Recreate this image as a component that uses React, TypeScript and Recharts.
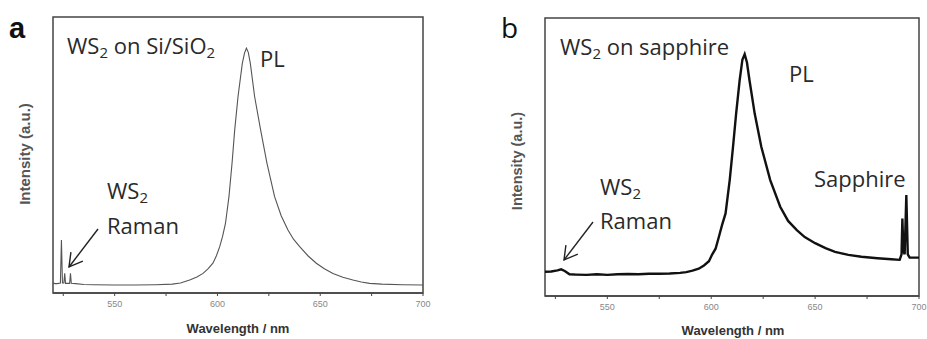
import React from "react";
import { LineChart, Line, XAxis, YAxis, ReferenceArea } from "recharts";

// Panel a: WS2 on Si/SiO2
const wavelengthA = [
  520, 521, 522, 523.6, 524.1, 524.6, 525.3, 525.7, 526.1, 528.1, 528.5, 528.9,
  531, 535, 540, 550, 560, 570, 578, 582, 586.5, 590, 593, 595.5, 597.8, 599.5,
  601.1, 602.5, 603.9, 605.6, 607.1, 608.4, 610.0, 612.1, 613.2, 614.1, 615.0,
  616.0, 618.1, 621.0, 624.1, 627.8, 631, 634.3, 637, 640, 644, 648.1, 652,
  656.2, 661, 665.9, 670, 674, 680, 690, 700,
];
const intensityA = [
  0.036, 0.034, 0.034, 0.036, 0.192, 0.036, 0.036, 0.071, 0.035, 0.035, 0.071, 0.035,
  0.034, 0.031, 0.030, 0.029, 0.029, 0.030, 0.032, 0.036, 0.047, 0.058, 0.071, 0.088, 0.108, 0.135,
  0.168, 0.205, 0.252, 0.349, 0.470, 0.591, 0.711, 0.832, 0.870, 0.887, 0.872,
  0.832, 0.711, 0.591, 0.470, 0.349, 0.280, 0.228, 0.195, 0.168, 0.135, 0.108, 0.088,
  0.071, 0.057, 0.047, 0.040, 0.035, 0.032, 0.030, 0.029,
];

// Panel b: WS2 on sapphire
const wavelengthB = [
  520, 523, 526, 527.8, 529.5, 531.8, 535, 540, 545, 550, 555, 560, 565, 570, 575,
  580, 585, 588, 591, 594, 596.5, 598.9, 600.5, 602.1, 603.7, 605.2, 606.9, 608.9,
  610.5, 612.0, 613.7, 615.0, 616.1, 617.2, 618.4, 620.9, 624.1, 628.4, 633.2, 637,
  641.2, 645, 650, 655, 659.6, 666, 672.3, 680, 686.7, 690.7, 691.6, 692.0, 692.5,
  693.1, 693.9, 694.6, 695.5, 700,
];
const intensityB = [
  0.087, 0.088, 0.092, 0.096, 0.090, 0.078, 0.077, 0.076, 0.078, 0.076, 0.078, 0.079, 0.078, 0.080, 0.080,
  0.081, 0.083, 0.086, 0.091, 0.098, 0.110, 0.125, 0.150, 0.170, 0.213, 0.255, 0.297, 0.417,
  0.537, 0.657, 0.777, 0.850, 0.870, 0.840, 0.777, 0.657, 0.537, 0.417, 0.321, 0.270,
  0.237, 0.212, 0.190, 0.172, 0.159, 0.148, 0.141, 0.136, 0.132, 0.130, 0.150, 0.279, 0.160,
  0.150, 0.363, 0.150, 0.138, 0.138,
];

const xTicks = [525, 550, 575, 600, 625, 650, 675, 700];
const majorTicks = [550, 600, 650, 700];
const xDomain = [520, 700];
const yDomain = [0, 1];

const dataA = wavelengthA.map((x, i) => ({ x, y: intensityA[i] }));
const dataB = wavelengthB.map((x, i) => ({ x, y: intensityB[i] }));

const tickFmt = (v: number) => (majorTicks.includes(v) ? String(v) : "");
const tickStyle = { fontSize: 9, fill: "#888", fontFamily: "Liberation Sans, Arial, sans-serif" };
const annoFont = "'Open Sans', Lato, sans-serif";
const axisFont = "Liberation Sans, Arial, sans-serif";

function Panel({ data, stroke, width, margin }: any) {
  return (
    <LineChart width={460} height={339} data={data} margin={margin}>
      <XAxis
        dataKey="x"
        type="number"
        domain={xDomain}
        ticks={xTicks}
        tickFormatter={tickFmt}
        tick={tickStyle}
        tickSize={3}
        tickMargin={5}
        height={30}
        axisLine={{ stroke: "#444", strokeWidth: 1.5 }}
        tickLine={{ stroke: "#444" }}
        allowDataOverflow
      />
      <YAxis type="number" domain={yDomain} hide width={0} allowDataOverflow />
      <ReferenceArea x1={520} x2={700} y1={0} y2={1} fill="none" stroke="#444" strokeWidth={1.5} />
      <Line
        type="linear"
        dataKey="y"
        stroke={stroke}
        strokeWidth={width}
        dot={false}
        isAnimationActive={false}
      />
    </LineChart>
  );
}

function Sub({ x, y, pre, post, size, color }: any) {
  return (
    <text x={x} y={y} fontSize={size} fill={color} fontFamily={annoFont}>
      {pre}
      <tspan fontSize={size * 0.68} dy={4}>2</tspan>
      <tspan dy={-4}>{post}</tspan>
    </text>
  );
}

function Arrow({ x1, y1, x2, y2 }: any) {
  const dx = x2 - x1;
  const dy = y2 - y1;
  const len = Math.hypot(dx, dy);
  const ux = -dx / len;
  const uy = -dy / len;
  const L = 15;
  const a = Math.PI / 6;
  const r = (t: number) => [ux * Math.cos(t) - uy * Math.sin(t), ux * Math.sin(t) + uy * Math.cos(t)];
  const [ax, ay] = r(a);
  const [bx, by] = r(-a);
  return (
    <g stroke="#222" strokeWidth={1.4} fill="none">
      <line x1={x1} y1={y1} x2={x2} y2={y2} />
      <polyline points={`${x2 + ax * L},${y2 + ay * L} ${x2},${y2} ${x2 + bx * L},${y2 + by * L}`} />
    </g>
  );
}

export default function App() {
  const fs = 22;
  const col = "#2a2a2a";
  return (
    <div style={{ position: "absolute", left: 0, top: 0, width: 927, height: 339, background: "#fff", overflow: "hidden" }}>
      <div style={{ position: "absolute", left: 0, top: 0 }}>
        <Panel data={dataA} stroke="#555" width={1.1} margin={{ top: 17, right: 37, bottom: 16, left: 53 }} />
      </div>
      <div style={{ position: "absolute", left: 467, top: 0 }}>
        <Panel data={dataB} stroke="#111" width={2.4} margin={{ top: 18, right: 8, bottom: 13, left: 78 }} />
      </div>
      <svg width={927} height={339} style={{ position: "absolute", left: 0, top: 0, pointerEvents: "none" }}>
        {/* panel letters */}
        <text x={9} y={38} fontSize={29} fontWeight="bold" fill="#111" fontFamily={axisFont}>a</text>
        <text x={501} y={38} fontSize={28} fill="#111" fontFamily={annoFont}>b</text>

        {/* axis titles */}
        <text x={238} y={333} fontSize={13} fontWeight="bold" fill="#333" textAnchor="middle" fontFamily={axisFont}>Wavelength / nm</text>
        <text x={733} y={335} fontSize={13} fontWeight="bold" fill="#333" textAnchor="middle" fontFamily={axisFont}>Wavelength / nm</text>
        <text x={0} y={0} transform="translate(30,154) rotate(-90)" fontSize={15} fontWeight="bold" fill="#555" textAnchor="middle" fontFamily={axisFont}>Intensity  (a.u.)</text>
        <text x={0} y={0} transform="translate(522,161) rotate(-90)" fontSize={14.5} fontWeight="bold" fill="#555" textAnchor="middle" fontFamily={axisFont}>Intensity (a.u.)</text>

        {/* panel a annotations */}
        <text x={67} y={54} fontSize={fs} fill={col} fontFamily={annoFont}>
          WS<tspan fontSize={15} dy={4}>2</tspan><tspan dy={-4}> on Si/SiO</tspan><tspan fontSize={15} dy={4}>2</tspan>
        </text>
        <text x={260} y={67} fontSize={fs} fill={col} fontFamily={annoFont}>PL</text>
        <Sub x={107} y={199} pre="WS" post="" size={fs} color={col} />
        <text x={107} y={234} fontSize={fs} fill={col} fontFamily={annoFont}>Raman</text>
        <Arrow x1={98} y1={229} x2={69} y2={267} />

        {/* panel b annotations */}
        <Sub x={560} y={55} pre="WS" post=" on sapphire" size={fs} color={col} />
        <text x={789} y={82} fontSize={fs} fill={col} fontFamily={annoFont}>PL</text>
        <text x={814} y={187} fontSize={fs} fill={col} fontFamily={annoFont}>Sapphire</text>
        <Sub x={600} y={195} pre="WS" post="" size={fs} color={col} />
        <text x={600} y={229} fontSize={fs} fill={col} fontFamily={annoFont}>Raman</text>
        <Arrow x1={593} y1={222} x2={564} y2={260} />
      </svg>
    </div>
  );
}
